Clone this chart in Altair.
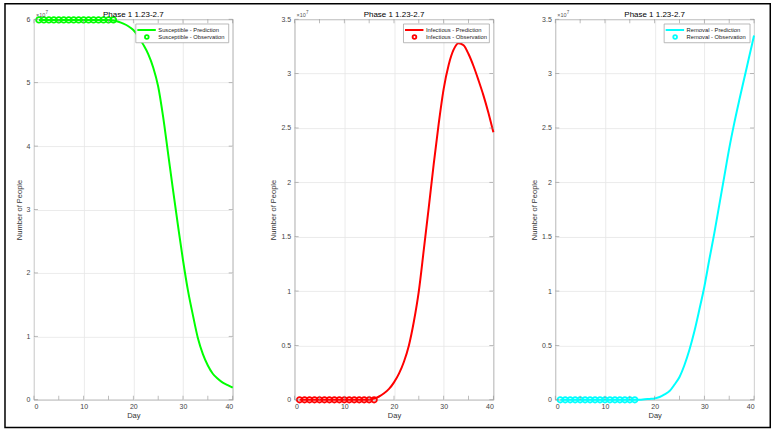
import altair as alt
import pandas as pd

# Day index of the model output and of the observed period (1.23 - 2.7)
DAYS = list(range(1, 41))
OBS_DAYS = list(range(1, 17))

# Model predictions, in units of 10^7 people
S_PRED = [5.99, 5.99, 5.99, 5.99, 5.99, 5.99, 5.99, 5.99, 5.99, 5.99,
          5.99, 5.99, 5.99, 5.99, 5.99, 5.98, 5.96, 5.93, 5.89, 5.83,
          5.73, 5.60, 5.45, 5.24, 4.94, 4.46, 3.88, 3.30, 2.74, 2.20,
          1.72, 1.33, 0.97, 0.72, 0.54, 0.41, 0.33, 0.27, 0.23, 0.19]
I_PRED = [0.0, 0.0, 0.0, 0.0, 0.0, 0.0, 0.0, 0.0, 0.0, 0.0,
          0.0, 0.0, 0.0, 0.0, 0.0, 0.01, 0.03, 0.06, 0.10, 0.16,
          0.24, 0.35, 0.50, 0.72, 1.00, 1.38, 1.77, 2.17, 2.54, 2.86,
          3.08, 3.22, 3.28, 3.26, 3.18, 3.07, 2.94, 2.80, 2.64, 2.46]
R_PRED = [0.0, 0.0, 0.0, 0.0, 0.0, 0.0, 0.0, 0.0, 0.0, 0.0,
          0.0, 0.0, 0.0, 0.0, 0.0, 0.0, 0.0, 0.005, 0.008, 0.012,
          0.025, 0.05, 0.08, 0.14, 0.21, 0.32, 0.46, 0.63, 0.83, 1.04,
          1.29, 1.53, 1.79, 2.05, 2.31, 2.54, 2.75, 2.95, 3.15, 3.35]

# Observations, in units of 10^7 people
S_OBS = [5.99, 5.99, 5.99, 5.99, 5.99, 5.99, 5.99, 5.99,
         5.99, 5.99, 5.99, 5.99, 5.99, 5.99, 5.99, 5.99]
I_OBS = [0.0, 0.0, 0.0, 0.0, 0.0, 0.0, 0.0, 0.0,
         0.0, 0.0, 0.0, 0.0, 0.0, 0.0, 0.0, 0.0]
R_OBS = [0.0, 0.0, 0.0, 0.0, 0.0, 0.0, 0.0, 0.0,
         0.0, 0.0, 0.0, 0.0, 0.0, 0.0, 0.0, 0.0]

SERIES = ["Susceptible", "Infectious", "Removal"]
COLORS = ["#00ff00", "#ff0000", "#00ffff"]
TITLE = "Phase 1 1.23-2.7"

X_TICKS = [0, 5, 10, 15, 20, 25, 30, 35, 40]
S_TICKS = [0, 1, 2, 3, 4, 5, 6]
IR_TICKS = [0, 0.5, 1, 1.5, 2, 2.5, 3, 3.5]

W, H = 199, 381
FONT = "Liberation Sans"
AXIS_GRAY = "#8a8a8a"
ONE = alt.Data(values=[{}])


def label(text, x, y, size, color, align="left", baseline="middle"):
    return alt.Chart(ONE).mark_text(
        align=align, baseline=baseline, fontSize=size, color=color, font=FONT
    ).encode(x=alt.value(x), y=alt.value(y), text=alt.value(text))


def panel(name, color, pred, obs, y_max, y_ticks, legend_w, frame=False):
    pred_df = pd.DataFrame({"Day": DAYS, "value": pred})
    obs_df = pd.DataFrame({"Day": OBS_DAYS, "value": obs})

    x = alt.X("Day:Q", scale=alt.Scale(domain=[0, 40], nice=False, zero=False),
              axis=alt.Axis(values=X_TICKS, title="Day", labelPadding=3,
                            titlePadding=2))
    y = alt.Y("value:Q", scale=alt.Scale(domain=[0, y_max], nice=False),
              axis=alt.Axis(values=y_ticks, title="Number of People",
                            format="~g", labelPadding=4, titlePadding=3))

    line = alt.Chart(pred_df).mark_line(
        color=color, strokeWidth=2, interpolate="monotone"
    ).encode(x=x, y=y)
    points = alt.Chart(obs_df).mark_point(
        shape="circle", filled=False, color=color, size=30, strokeWidth=1.8, opacity=1
    ).encode(x="Day:Q", y="value:Q")

    # inward tick marks on all four sides of the box
    xt = alt.Chart(pd.DataFrame({"Day": X_TICKS}))
    yt = alt.Chart(pd.DataFrame({"value": y_ticks}))
    tick_kw = dict(color=AXIS_GRAY, thickness=0.8, size=4)
    ticks = [
        xt.mark_tick(orient="vertical", **tick_kw).encode(x="Day:Q", y=alt.value(H - 2)),
        xt.mark_tick(orient="vertical", **tick_kw).encode(x="Day:Q", y=alt.value(2)),
        yt.mark_tick(orient="horizontal", **tick_kw).encode(y="value:Q", x=alt.value(2)),
        yt.mark_tick(orient="horizontal", **tick_kw).encode(y="value:Q", x=alt.value(W - 2)),
    ]

    # panel title and exponent label of the y axis
    heads = [
        label(TITLE, W / 2, -2.5, 8, "black", align="center", baseline="alphabetic"),
        label("×10", 2, -2.5, 5.5, "#555555", baseline="alphabetic"),
        label("7", 11.5, -5.5, 4.5, "#555555", baseline="alphabetic"),
    ]

    # legend box
    lx0 = W - 4 - legend_w
    legend = [
        alt.Chart(ONE).mark_rect(fill="white", stroke="#a8a8a8", strokeWidth=0.8).encode(
            x=alt.value(lx0), x2=alt.value(W - 4), y=alt.value(4.75), y2=alt.value(23.5)),
        alt.Chart(ONE).mark_rule(color=color, strokeWidth=2).encode(
            x=alt.value(lx0 + 1.5), x2=alt.value(lx0 + 20), y=alt.value(10.75)),
        alt.Chart(ONE).mark_point(shape="circle", filled=False, color=color, size=14,
                                  strokeWidth=1.8, opacity=1).encode(
            x=alt.value(lx0 + 11), y=alt.value(17.75)),
        label(f"{name} - Prediction", lx0 + 22.5, 10.75, 5.8, "#222222"),
        label(f"{name} - Observation", lx0 + 22.5, 17.75, 5.8, "#222222"),
    ]

    layers = [line, points] + ticks + heads + legend
    if frame:
        # black frame around the whole figure
        layers.append(
            alt.Chart(ONE).mark_rect(fillOpacity=0, stroke="black", strokeWidth=1.5).encode(
                x=alt.value(-29), x2=alt.value(737.25),
                y=alt.value(-15.5), y2=alt.value(408.75)))

    return alt.layer(*layers).properties(width=W, height=H)


p1 = panel(SERIES[0], COLORS[0], S_PRED, S_OBS, 6, S_TICKS, 93, frame=True)
p2 = panel(SERIES[1], COLORS[1], I_PRED, I_OBS, 3.5, IR_TICKS, 86)
p3 = panel(SERIES[2], COLORS[2], R_PRED, R_OBS, 3.5, IR_TICKS, 86)

chart = alt.hconcat(p1, p2, p3, spacing=62, bounds="flush").properties(
    padding={"left": 3, "top": 2, "right": 5, "bottom": 2},
    background="white",
).configure_view(
    stroke=AXIS_GRAY, strokeWidth=0.9
).configure_axis(
    domain=False, ticks=False, grid=True, gridColor="#e6e6e6", gridWidth=0.8,
    labelFont=FONT, labelFontSize=7, labelColor="#444444",
    titleFont=FONT, titleFontSize=7.5, titleColor="#333333", titleFontWeight="normal",
)

chart.save("out.html", embed_options={"renderer": "svg", "actions": False})
